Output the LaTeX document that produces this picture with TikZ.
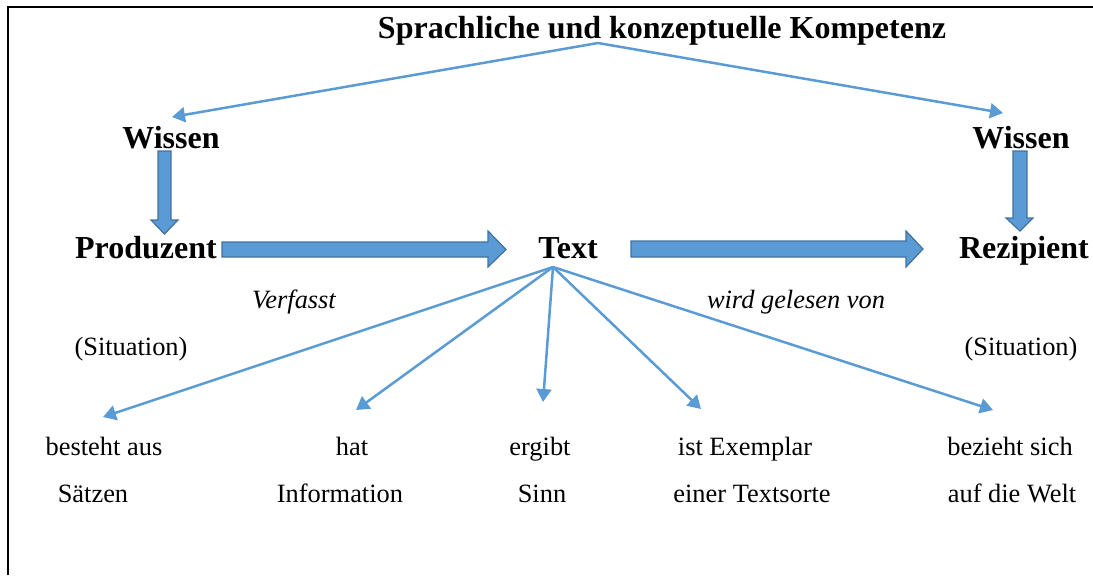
\documentclass[tikz,border=0pt]{standalone}
\usepackage{fontspec}
\setmainfont{Liberation Serif}
\usetikzlibrary{arrows.meta}
\definecolor{officeblue}{HTML}{5B9BD5}
\definecolor{officeline}{HTML}{41719C}
\begin{document}
\begin{tikzpicture}
[x=0.5pt,y=-0.5pt,
 every node/.style={inner sep=0pt,anchor=base},
 big/.style={font=\fontsize{16}{19}\selectfont\bfseries},
 small/.style={font=\fontsize{13.2}{16}\selectfont},
 smallit/.style={font=\fontsize{13.2}{16}\selectfont\itshape},
 thinarrow/.style={draw=officeblue,line width=1.25pt,-{Triangle[length=6.5pt,width=7.5pt]}},
 fatarrow/.style={draw=officeline,fill=officeblue,line width=0.6pt,line join=miter}]
   \useasboundingbox (0,0) rectangle (1093,575);
   \draw[line width=1pt] (8,575) -- (8,7) -- (1093,7);

   \node[big] (komp) at (662,38) {Sprachliche und konzeptuelle Kompetenz};
   \node[big] (wiss_l) at (171,148) {Wissen};
   \node[big] (wiss_r) at (1021,148) {Wissen};
   \node[big] (prod) at (146,258) {Produzent};
   \node[big] (text) at (568,258) {Text};
   \node[big] (rez) at (1024,258) {Rezipient};
   \node[smallit] (verf) at (294,308) {Verfasst};
   \node[smallit] (gel) at (796,308) {wird gelesen von};
   \node[small] (sit_l) at (131,355) {(Situation)};
   \node[small] (sit_r) at (1021,355) {(Situation)};

   \node[small] (b_1) at (104,455) {besteht aus};
   \node[small] (b_1s) at (93,502) {Sätzen};
   \node[small] (b_2) at (352,455) {hat};
   \node[small] (b_2s) at (340,502) {Information};
   \node[small] (b_3) at (540,455) {ergibt};
   \node[small] (b_3s) at (542,502) {Sinn};
   \node[small] (b_4) at (745,455) {ist Exemplar};
   \node[small] (b_4s) at (752,502) {einer Textsorte};
   \node[small] (b_5) at (1010,455) {bezieht sich};
   \node[small] (b_5s) at (1012,502) {auf die Welt};

   \coordinate (k_0) at (598,43);
   \coordinate (w_l) at (172,117);
   \coordinate (w_r) at (1003,113);
   \coordinate (t_0) at (553,267);
   \coordinate (t_1) at (103,417);
   \coordinate (t_2) at (356,410);
   \coordinate (t_3) at (543,402);
   \coordinate (t_4) at (701,409);
   \coordinate (t_5) at (993,410);

   \draw[thinarrow] (k_0) -- (w_l);
   \draw[thinarrow] (k_0) -- (w_r);
   \foreach \i in {1,...,5}
     \draw[thinarrow] (t_0) -- (t_\i);

   \draw[fatarrow] (158,151) -- (171,151) -- (171,220) -- (178,220) -- (164.5,234)
     -- (151,220) -- (158,220) -- cycle;
   \draw[fatarrow] (1013,151) -- (1027,151) -- (1027,218) -- (1033,218) -- (1020,231)
     -- (1006,218) -- (1013,218) -- cycle;
   \draw[fatarrow] (222,242) -- (488,242) -- (488,231) -- (506,249.5) -- (488,267)
     -- (488,257) -- (222,257) -- cycle;
   \draw[fatarrow] (631,241) -- (906,241) -- (906,231) -- (923,249) -- (906,267)
     -- (906,257) -- (631,257) -- cycle;

\end{tikzpicture}
\end{document}
